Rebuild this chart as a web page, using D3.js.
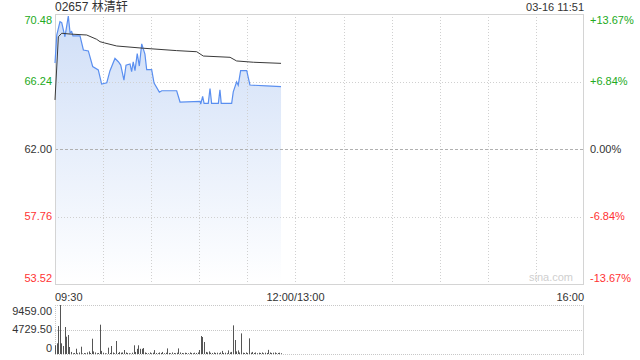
<!DOCTYPE html>
<html><head><meta charset="utf-8">
<script src="https://cdn.jsdelivr.net/npm/d3@7"></script>
<style>
html,body{margin:0;padding:0;background:#fff;}
svg text{font-family:Arial,"Liberation Sans","Noto Sans CJK SC",sans-serif;}
</style>
</head><body>
<svg id="c" width="640" height="360"></svg>
<script>
const title = "02657 林清轩";
const stamp = "03-16 11:51";
const prevClose = 62.00;
const priceTicks = [70.48, 66.24, 62.00, 57.76, 53.52];
const pctTicks = ["+13.67%", "+6.84%", "0.00%", "-6.84%", "-13.67%"];
const volTicks = [9459.00, 4729.50, 0];
const volTickLabels = ["9459.00", "4729.50", "0"];
const timeLabels = ["09:30", "12:00/13:00", "16:00"];
const timeLabelMinutes = [0, 150, 330];

// minutes since 09:30 (trading minutes) and price
const priceMinutes = [0,1.1,3.1,4.2,6.2,8.3,9.4,10.4,11.2,15.6,17.7,20.8,23.5,27,29.1,32.3,34.3,37.4,39.5,41,43,44.3,46.8,47.8,48.8,49.9,51.3,52.6,54.1,56.1,57.2,60.3,61.8,65.1,66.6,75.9,78,90.5,90.9,92.1,93,95.6,96.7,97.7,101.9,102.9,103.7,110.2,111.2,113.3,114.3,115.8,119.6,121.6,132,141];
const price = [67.40,69.16,70.00,69.94,69.05,70.35,69.30,69.38,69.11,69.11,68.22,68.16,67.18,66.97,66.08,66.16,66.92,67.69,67.48,67.27,66.33,67.27,67.34,66.86,67.48,66.92,68.00,67.21,68.60,67.96,66.98,66.98,66.14,65.57,65.66,65.66,64.95,64.99,64.82,65.31,64.87,64.87,65.80,64.87,64.87,65.72,64.87,64.87,65.59,66.22,66.01,66.92,66.92,66.02,65.96,65.92];

const avgMinutes = [0,2.1,4.2,9.4,19.8,26,28.1,31,38.5,55.1,75.9,88.4,92.5,109.2,113.3,123.7,141];
const avgPrice = [65.08,69.05,69.27,69.22,69.16,68.89,68.74,68.66,68.47,68.33,68.18,68.11,67.84,67.76,67.53,67.45,67.38];

const volume = [1680,2065,5400,9459,2065,1545,5210,3340,3670,1350,
400,150,200,1020,150,300,1410,100,200,150,
300,500,200,2950,500,300,150,200,5660,600,
250,150,100,1220,200,1545,300,150,2510,200,
400,250,300,770,300,200,150,100,250,1680,
400,1000,1680,1000,1000,1150,300,200,150,300,
150,250,750,200,150,300,200,400,150,250,
1080,200,150,300,200,150,250,1080,300,200,
150,250,200,150,300,200,150,250,200,300,
770,3470,3280,2320,400,300,500,250,200,300,
200,250,150,300,600,200,250,150,700,300,
400,5530,2700,500,700,300,3980,250,200,300,
200,3020,250,400,200,300,150,250,200,300,
150,250,200,800,300,200,250,300,150,200,
250,150];

const svg = d3.select("#c");
const L = 55, R = 584, T = 14, B = 284;
const VT = 305, VB = 354;
const x = d3.scaleLinear().domain([0, 330]).range([L, R]);
const y = d3.scaleLinear().domain([53.52, 70.48]).range([B, T]);
const yv = d3.scaleLinear().domain([0, 9459]).range([VB, VT]);

const defs = svg.append("defs");
const g = defs.append("linearGradient").attr("id","fillg").attr("gradientUnits","userSpaceOnUse")
  .attr("x1",0).attr("y1",T).attr("x2",0).attr("y2",B);
g.append("stop").attr("offset",0).attr("stop-color","#cfdef7");
g.append("stop").attr("offset",1).attr("stop-color","#ffffff");

// area
const pts = priceMinutes.map((m,i)=>[m, price[i]]);
svg.append("path").datum(pts)
  .attr("d", d3.area().x(d=>x(d[0])).y0(B).y1(d=>y(d[1])))
  .attr("fill","url(#fillg)");

// vertical grid
const vGrid = d3.range(30, 330, 30);
svg.append("g").selectAll("line").data(vGrid).join("line")
  .attr("x1",d=>Math.round(x(d))+0.5).attr("x2",d=>Math.round(x(d))+0.5)
  .attr("y1",T).attr("y2",B)
  .attr("stroke","#d0d0d0").attr("stroke-dasharray","1,2");
// horizontal grid
svg.append("g").selectAll("line").data(priceTicks.slice(1,4)).join("line")
  .attr("x1",L).attr("x2",R)
  .attr("y1",d=>Math.round(y(d))+0.5).attr("y2",d=>Math.round(y(d))+0.5)
  .attr("stroke",d=>d===prevClose?"#b0b0b0":"#d0d0d0")
  .attr("stroke-dasharray",d=>d===prevClose?"3,2":"1,2");

// border
svg.append("rect").attr("x",L+0.5).attr("y",T+0.5).attr("width",R-L-1).attr("height",B-T)
  .attr("fill","none").attr("stroke","#d4d4d4");

// lines
svg.append("path").datum(pts)
  .attr("d", d3.line().x(d=>x(d[0])).y(d=>y(d[1])))
  .attr("fill","none").attr("stroke","#5a8ff0").attr("stroke-width",1.2);
svg.append("path").datum(avgMinutes.map((m,i)=>[m,avgPrice[i]]))
  .attr("d", d3.line().x(d=>x(d[0])).y(d=>y(d[1])))
  .attr("fill","none").attr("stroke","#3a3a3a").attr("stroke-width",1);

// labels
const colorFor = v => v > prevClose ? "#22aa22" : (v < prevClose ? "#ff3333" : "#333");
const nudge = i => i===0 ? 6 : (i===priceTicks.length-1 ? -6 : 0);
svg.append("g").selectAll("text").data(priceTicks).join("text")
  .attr("x",52).attr("y",(d,i)=>y(d)+nudge(i)).attr("dy","0.35em")
  .attr("text-anchor","end").attr("font-size",11).attr("fill",colorFor)
  .text(d=>d.toFixed(2));
svg.append("g").selectAll("text").data(pctTicks).join("text")
  .attr("x",590).attr("y",(d,i)=>y(priceTicks[i])+nudge(i)).attr("dy","0.35em")
  .attr("text-anchor","start").attr("font-size",11).attr("fill",(d,i)=>colorFor(priceTicks[i]))
  .text(d=>d);

svg.append("text").attr("x",55).attr("y",11).attr("font-size",12).attr("fill","#333").text(title);
svg.append("text").attr("x",584).attr("y",11).attr("font-size",11).attr("fill","#333")
  .attr("text-anchor","end").text(stamp);
svg.append("text").attr("x",573).attr("y",281).attr("font-size",11).attr("fill","#cfcfcf")
  .attr("text-anchor","end").text("sina.com");

const anchors = ["start","middle","end"];
svg.append("g").selectAll("text").data(timeLabels).join("text")
  .attr("x",(d,i)=>x(timeLabelMinutes[i])).attr("y",297).attr("dy","0.35em")
  .attr("text-anchor",(d,i)=>anchors[i]).attr("font-size",11).attr("fill","#333").text(d=>d);

// volume panel
svg.append("g").selectAll("line").data(volTicks).join("line")
  .attr("x1",L).attr("x2",R)
  .attr("y1",d=>Math.round(yv(d))+0.5).attr("y2",d=>Math.round(yv(d))+0.5)
  .attr("stroke","#c8c8c8").attr("stroke-dasharray","1,1");
svg.append("line").attr("x1",L+0.5).attr("x2",L+0.5).attr("y1",VT).attr("y2",VB)
  .attr("stroke","#c8c8c8").attr("stroke-dasharray","1,1");
svg.append("line").attr("x1",R-0.5).attr("x2",R-0.5).attr("y1",VT).attr("y2",VB)
  .attr("stroke","#d4d4d4");
svg.append("g").selectAll("rect").data(volume).join("rect")
  .attr("x",(d,i)=>Math.round(x(i))).attr("width",1)
  .attr("y",d=>yv(d)).attr("height",d=>VB-yv(d))
  .attr("fill","#555");
const vn = i => i===0 ? 6 : (i===2 ? -6 : 0);
svg.append("g").selectAll("text").data(volTicks).join("text")
  .attr("x",52).attr("y",(d,i)=>yv(d)+vn(i)).attr("dy","0.35em")
  .attr("text-anchor","end").attr("font-size",11).attr("fill","#333")
  .text((d,i)=>volTickLabels[i]);
</script>
</body></html>
